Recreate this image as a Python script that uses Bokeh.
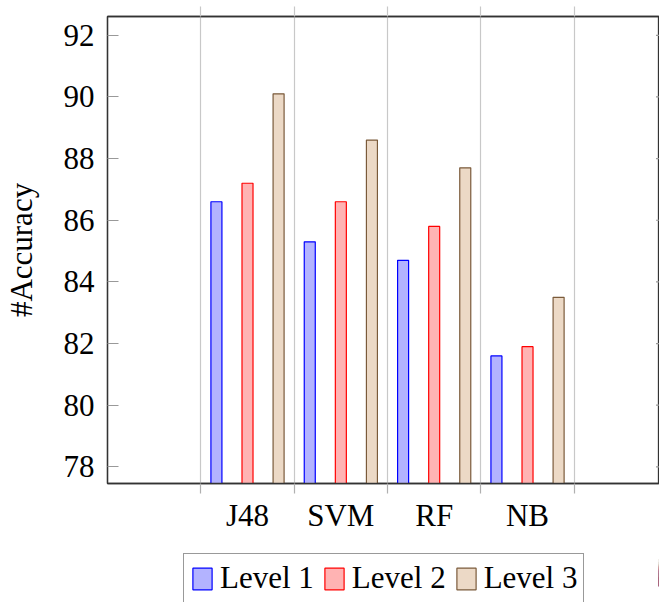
from bokeh.plotting import figure
from bokeh.layouts import column
from bokeh.models import (FixedTicker, LinearAxis, Legend, LegendItem, Range1d,
                          ColumnDataSource)
from bokeh.transform import dodge
from bokeh.embed import file_html
from bokeh.resources import INLINE

# ---- data ----
classifiers = ["J48", "SVM", "RF", "NB"]
level1 = [86.6, 85.3, 84.7, 81.6]
level2 = [87.2, 86.6, 85.8, 81.9]
level3 = [90.1, 88.6, 87.7, 83.5]
series_names = ["Level 1", "Level 2", "Level 3"]
y_ticks = [78, 80, 82, 84, 86, 88, 90, 92]

FONT = "Liberation Serif"
FS = "31px"

positions = [i + 1 for i in range(len(classifiers))]
bounds = [i + 0.5 for i in range(len(classifiers) + 1)]

X0, X1 = -0.5, 5.414
Y0, Y1 = 77.46, 92.61
src = ColumnDataSource(dict(x=positions, l1=level1, l2=level2, l3=level3))

p = figure(width=659, height=537,
           x_range=Range1d(X0, X1), y_range=Range1d(Y0, Y1),
           output_backend="svg", toolbar_location=None,
           min_border_left=107, min_border_right=0, min_border_top=16, min_border_bottom=54)

p.outline_line_color = "#333333"
p.outline_line_width = 1.3

styles = [("l1", "#b3b3ff", "#0000ff", -0.333),
          ("l2", "#ffb3b3", "#ff0000", 0.0),
          ("l3", "#ecd9c6", "#7a5a3a", 0.333)]
for col, fill, line, off in styles:
    p.vbar(x=dodge("x", off), top=col, bottom=Y0, width=0.118, source=src,
           fill_color=fill, line_color=line, line_width=1.2)

# vertical grid at category boundaries
p.ygrid.visible = False
p.xgrid.ticker = FixedTicker(ticks=bounds)
p.xgrid.grid_line_color = "#c8c8c8"
p.xgrid.grid_line_width = 1.2

# short mirror-tick stubs on the right edge
stub_len = 3.5 / 93.3
p.segment(x0=[X1 - stub_len] * len(y_ticks), x1=[X1] * len(y_ticks),
          y0=y_ticks, y1=y_ticks, line_color="#999999", line_width=1.2)

# bottom axis
xa = p.xaxis[0]
xa.ticker = FixedTicker(ticks=positions, minor_ticks=bounds)
xa.major_label_overrides = {pos: c for pos, c in zip(positions, classifiers)}
xa.major_tick_out = 0
xa.major_tick_in = 0
xa.minor_tick_out = 10
xa.minor_tick_in = 0
xa.minor_tick_line_color = "#b0b0b0"
xa.minor_tick_line_width = 1.2
xa.axis_line_color = "#333333"
xa.axis_line_width = 1.3
xa.major_label_text_font = FONT
xa.major_label_text_font_size = FS
xa.major_label_text_color = "black"
xa.major_label_standoff = 4

# left axis
ya = p.yaxis[0]
ya.ticker = FixedTicker(ticks=y_ticks)
ya.major_tick_in = 11
ya.major_tick_out = 0
ya.minor_tick_in = 0
ya.minor_tick_out = 0
ya.major_tick_line_color = "#999999"
ya.major_tick_line_width = 1.2
ya.axis_line_color = "#333333"
ya.axis_line_width = 1.3
ya.major_label_text_font = FONT
ya.major_label_text_font_size = FS
ya.major_label_text_color = "black"
ya.major_label_standoff = 13
ya.axis_label = "#Accuracy"
ya.axis_label_text_font = FONT
ya.axis_label_text_font_size = FS
ya.axis_label_text_font_style = "normal"
ya.axis_label_text_color = "black"
ya.axis_label_standoff = 22

# top axis (grid extensions above the frame), labels not drawn
ta = LinearAxis(ticker=FixedTicker(ticks=bounds), major_label_text_font_size="1px",
                major_label_text_color=None,
                major_label_standoff=0, major_tick_out=10, major_tick_in=0,
                minor_tick_out=0, minor_tick_in=0,
                major_tick_line_color="#c8c8c8", major_tick_line_width=1.2,
                axis_line_color="#333333", axis_line_width=1.3)
p.add_layout(ta, "above")

# ---- legend strip below the chart (its bars lie beyond the right canvas edge) ----
q = figure(width=659, height=65, x_range=Range1d(-3, -2), y_range=Range1d(70, 100),
           output_backend="svg", toolbar_location=None,
           min_border_left=0, min_border_right=0, min_border_top=0, min_border_bottom=0)
q.axis.visible = False
q.grid.visible = False
q.outline_line_color = None
items = []
for name, (col, fill, line, off) in zip(series_names, styles):
    r = q.vbar(x=dodge("x", off), top=col, bottom=Y0, width=0.118, source=src,
               fill_color=fill, line_color=line, line_width=1.2)
    items.append(LegendItem(label=name, renderers=[r]))

legend = Legend(items=items, orientation="horizontal", location=(76, -1),
                label_text_font=FONT, label_text_font_size=FS, label_text_color="black",
                glyph_width=24, glyph_height=27, label_height=27, label_standoff=6,
                spacing=8, padding=6, margin=0,
                border_line_color="#333333", border_line_width=1.2,
                background_fill_color="white", background_fill_alpha=1.0)
q.add_layout(legend, "center")

layout = column(p, q, spacing=0)
open("out.html", "w").write(file_html(layout, INLINE))
